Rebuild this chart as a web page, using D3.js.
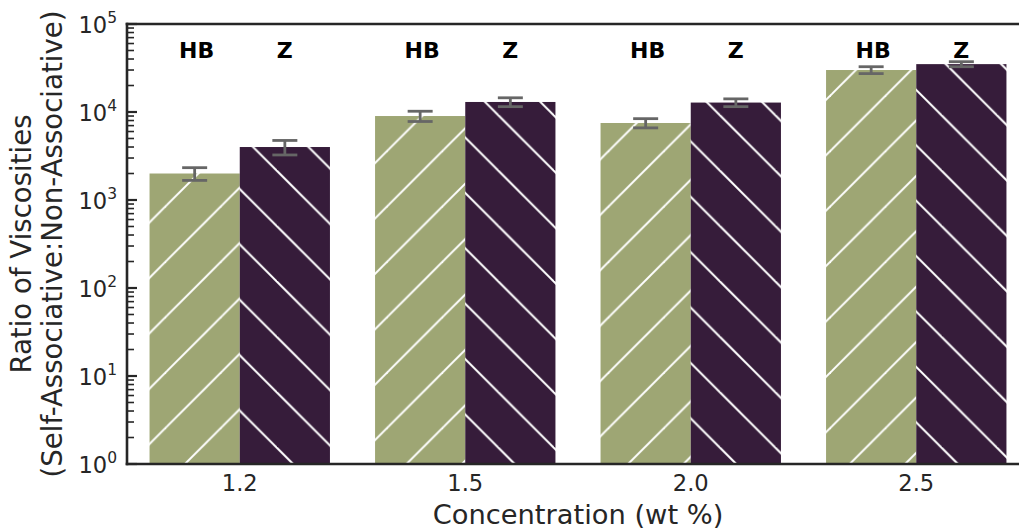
<!DOCTYPE html>
<html>
<head>
<meta charset="utf-8">
<script src="https://cdn.jsdelivr.net/npm/d3@7"></script>
<style>
  html, body { margin: 0; padding: 0; background: #fff; }
  svg { display: block; font-family: "DejaVu Sans", sans-serif; }
</style>
</head>
<body>
<svg id="chart" width="1019" height="529"></svg>
<script>
// Polymer concentrations (wt %) on the x axis
const concentrations = ["1.2", "1.5", "2.0", "2.5"];
// Two associative systems compared at each concentration
const series = ["HB", "Z"];
// Viscosity ratio (self-associative : non-associative) per concentration
const hbValues = [2000, 9000, 7500, 30000];
const zValues  = [4000, 13000, 12800, 35000];
// Error half-widths for each bar
const hbErrors = [330, 1200, 900, 2700];
const zErrors  = [750, 1500, 1300, 2300];
// Log-axis decades
const yTickExponents = [0, 1, 2, 3, 4, 5];

const colors = { HB: "#9ea674", Z: "#361c3a" };

const svg = d3.select("#chart");
const plotLeft = 127, plotRight = 1029, plotTop = 24, plotBottom = 464;

const x = d3.scaleBand().domain(concentrations).range([plotLeft, plotRight])
  .paddingInner(0.2).paddingOuter(0.1);
const xs = d3.scaleBand().domain(series).range([0, x.bandwidth()]);
const y = d3.scaleLog().domain([1, 1e5]).range([plotBottom, plotTop]);

// Diagonal hatch fills, tiled in page coordinates
const P = 55.4;
const defs = svg.append("defs");
function hatch(key, dir, phase) {
  const p = defs.append("pattern").attr("id", "hatch-" + key)
    .attr("patternUnits", "userSpaceOnUse")
    .attr("x", 0).attr("y", 0).attr("width", P).attr("height", P);
  p.append("rect").attr("width", P).attr("height", P).attr("fill", colors[key]);
  for (let k = -1; k <= 2; k++) {
    const b = phase + k * P;
    const seg = dir === "/"
      ? [b + P, -P, b - 2 * P, 2 * P]      // x + y = b
      : [b - P, -P, b + 2 * P, 2 * P];     // x - y = b
    p.append("line")
      .attr("x1", seg[0]).attr("y1", seg[1]).attr("x2", seg[2]).attr("y2", seg[3])
      .attr("stroke", "#fff").attr("stroke-width", 2);
  }
}
hatch("HB", "/", 39.5);
hatch("Z", "\\", 50.7);

const rows = [];
concentrations.forEach((c, i) => {
  rows.push({ c, s: "HB", v: hbValues[i], e: hbErrors[i] });
  rows.push({ c, s: "Z", v: zValues[i], e: zErrors[i] });
});

// Bars
svg.append("g").selectAll("rect").data(rows).join("rect")
  .attr("x", d => x(d.c) + xs(d.s))
  .attr("width", xs.bandwidth())
  .attr("y", d => y(d.v))
  .attr("height", d => y(1) - y(d.v))
  .attr("fill", d => `url(#hatch-${d.s})`);

// Error bars
const eg = svg.append("g").attr("stroke", "#666").attr("stroke-width", 2.8);
rows.forEach(d => {
  const cx = x(d.c) + xs(d.s) + xs.bandwidth() / 2;
  const y0 = y(d.v - d.e), y1 = y(d.v + d.e);
  eg.append("line").attr("x1", cx).attr("x2", cx).attr("y1", y0).attr("y2", y1);
  eg.append("line").attr("x1", cx - 12.5).attr("x2", cx + 12.5).attr("y1", y0).attr("y2", y0);
  eg.append("line").attr("x1", cx - 12.5).attr("x2", cx + 12.5).attr("y1", y1).attr("y2", y1);
});

// Series labels above each bar
svg.append("g").selectAll("text").data(rows).join("text")
  .attr("x", d => x(d.c) + xs(d.s) + xs.bandwidth() / 2 + (d.s === "HB" ? 2 : 0))
  .attr("y", y(Math.pow(10, 4.7)))
  .attr("text-anchor", "middle")
  .attr("dominant-baseline", "central")
  .attr("font-weight", "bold")
  .attr("font-size", 22)
  .attr("fill", "#000")
  .text(d => d.s);

const ink = "#262626";

// Minor + major ticks on left and right sides, pointing inward
const minorVals = [];
for (let e = 0; e < 5; e++) for (let m = 2; m <= 9; m++) minorVals.push(m * Math.pow(10, e));
const majorVals = yTickExponents.map(e => Math.pow(10, e));

const tg = svg.append("g").attr("stroke", ink);
minorVals.forEach(v => {
  tg.append("line").attr("x1", plotLeft).attr("x2", plotLeft + 7).attr("y1", y(v)).attr("y2", y(v)).attr("stroke-width", 1.6);
  tg.append("line").attr("x1", plotRight).attr("x2", plotRight - 7).attr("y1", y(v)).attr("y2", y(v)).attr("stroke-width", 1.6);
});
majorVals.forEach(v => {
  tg.append("line").attr("x1", plotLeft).attr("x2", plotLeft + 10).attr("y1", y(v)).attr("y2", y(v)).attr("stroke-width", 2.2);
  tg.append("line").attr("x1", plotRight).attr("x2", plotRight - 10).attr("y1", y(v)).attr("y2", y(v)).attr("stroke-width", 2.2);
});

// Y tick labels: 10^n
const yl = svg.append("g").attr("fill", ink).attr("font-size", 22.6).attr("text-anchor", "end");
yTickExponents.forEach(e => {
  const t = yl.append("text").attr("x", 117).attr("y", y(Math.pow(10, e)) + 9);
  t.append("tspan").text("10");
  t.append("tspan").attr("dy", -10).attr("font-size", 15.5).text(e);
});

// X tick labels
svg.append("g").selectAll("text").data(concentrations).join("text")
  .attr("x", d => x(d) + x.bandwidth() / 2)
  .attr("y", 491)
  .attr("text-anchor", "middle")
  .attr("font-size", 22.6)
  .attr("fill", ink)
  .text(d => d);

// Frame
const fg = svg.append("g").attr("stroke", ink).attr("stroke-width", 2.6).attr("fill", "none");
fg.append("line").attr("x1", plotLeft).attr("x2", plotLeft).attr("y1", plotTop - 1.3).attr("y2", plotBottom + 1.3);
fg.append("line").attr("x1", plotRight).attr("x2", plotRight).attr("y1", plotTop).attr("y2", plotBottom);
fg.append("line").attr("x1", plotLeft - 1.3).attr("x2", plotRight).attr("y1", plotTop).attr("y2", plotTop);
fg.append("line").attr("x1", plotLeft - 1.3).attr("x2", plotRight).attr("y1", plotBottom).attr("y2", plotBottom);

// Axis titles
svg.append("text")
  .attr("x", (plotLeft + plotRight) / 2)
  .attr("y", 524)
  .attr("text-anchor", "middle")
  .attr("font-size", 27.3)
  .attr("fill", ink)
  .text("Concentration (wt %)");

const yt = svg.append("text")
  .attr("transform", `translate(0, ${(plotTop + plotBottom) / 2}) rotate(-90)`)
  .attr("text-anchor", "middle")
  .attr("font-size", 27.6)
  .attr("fill", ink);
yt.append("tspan").attr("x", 0).attr("y", 31).text("Ratio of Viscosities");
yt.append("tspan").attr("x", 0).attr("y", 62).text("(Self-Associative:Non-Associative)");
</script>
</body>
</html>
